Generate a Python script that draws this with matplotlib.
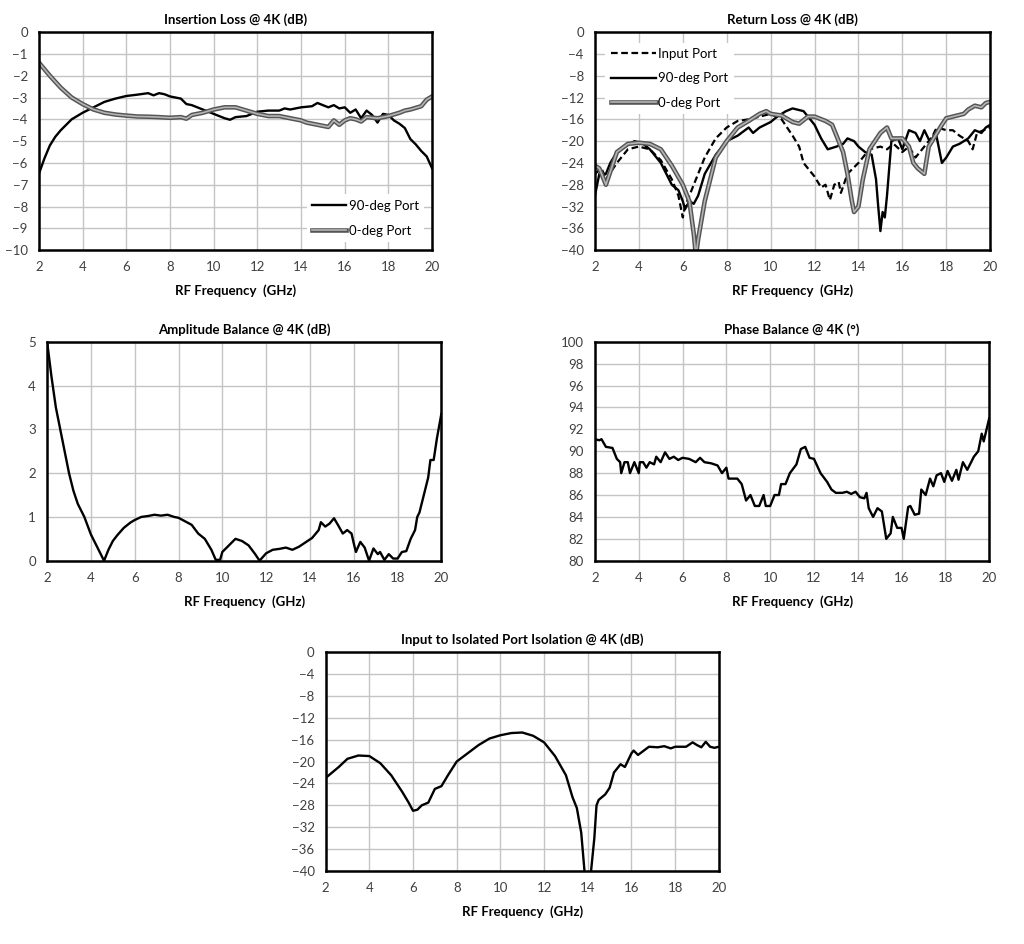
import matplotlib
matplotlib.use("Agg")
from matplotlib import pyplot as plt
import matplotlib.patheffects as pe

plt.rcParams['font.family'] = ['Lato', 'DejaVu Sans']

# ---- Insertion loss ----
il90_f = [2.0, 2.25, 2.5, 2.75, 3.0, 3.5, 4.0, 4.5, 5.0, 5.5, 6.0, 6.5, 7.0, 7.25, 7.5, 7.75, 8.0, 8.5,
          8.75, 9.0, 9.5, 10.0, 10.5, 10.75, 11.0, 11.5, 12.0, 12.5, 13.0, 13.25, 13.5, 14.0, 14.5, 14.75,
          15.0, 15.25, 15.5, 15.75, 16.0, 16.25, 16.5, 16.75, 17.0, 17.25, 17.5, 17.75, 18.0, 18.25, 18.5,
          18.75, 19.0, 19.25, 19.5, 19.75, 20.0]
il90_db = [-6.5, -5.8, -5.2, -4.8, -4.5, -4.0, -3.7, -3.45, -3.2, -3.05, -2.93, -2.87, -2.8, -2.9, -2.8,
           -2.85, -2.95, -3.05, -3.3, -3.35, -3.55, -3.75, -3.95, -4.02, -3.9, -3.85, -3.65, -3.6, -3.6,
           -3.5, -3.55, -3.45, -3.4, -3.25, -3.35, -3.45, -3.35, -3.5, -3.45, -3.7, -3.55, -3.95, -3.6,
           -3.8, -4.15, -3.75, -3.8, -4.05, -4.2, -4.4, -4.9, -5.15, -5.45, -5.7, -6.25]
il0_f = [2.0, 2.5, 3.0, 3.5, 4.0, 4.5, 5.0, 5.5, 6.0, 6.5, 7.0, 7.5, 8.0, 8.5, 8.75, 9.0, 9.5, 10.0, 10.5,
         11.0, 11.5, 12.0, 12.5, 13.0, 13.5, 14.0, 14.25, 14.5, 15.0, 15.25, 15.5, 15.75, 16.0, 16.25,
         16.5, 16.75, 17.0, 17.5, 18.0, 18.5, 18.75, 19.0, 19.5, 19.75, 20.0]
il0_db = [-1.4, -2.0, -2.55, -3.0, -3.3, -3.55, -3.7, -3.78, -3.83, -3.87, -3.88, -3.9, -3.93, -3.9,
          -3.97, -3.8, -3.7, -3.55, -3.45, -3.45, -3.6, -3.75, -3.85, -3.85, -3.95, -4.05, -4.15, -4.2,
          -4.3, -4.35, -4.05, -4.25, -4.05, -3.95, -4.0, -4.1, -3.9, -3.95, -3.85, -3.7, -3.6, -3.55,
          -3.4, -3.1, -2.95]

# ---- Return loss ----
rl_in_f = [2.0, 2.3, 2.5, 3.0, 3.5, 4.0, 4.5, 5.0, 5.5, 5.8, 6.0, 6.1, 6.5, 7.0, 7.5, 8.0, 8.5, 9.0, 9.5,
           10.0, 10.5, 11.0, 11.3, 11.5, 12.0, 12.3, 12.5, 12.7, 12.9, 13.1, 13.2, 13.5, 14.0, 14.5, 15.0,
           15.3, 15.6, 16.0, 16.3, 16.6, 17.0, 17.3, 17.6, 18.0, 18.3, 18.6, 19.0, 19.2, 19.4, 19.7, 20.0]
rl_in_db = [-26, -25, -27, -24, -21.5, -21, -21.5, -23.5, -27, -30, -34, -32, -28, -23, -19.5, -17.5,
            -16.3, -16, -15.5, -15, -16, -19, -21, -24, -26.5, -28.5, -28, -30.8, -28, -27.5, -29.5, -26,
            -24, -21.5, -21, -21.5, -20.5, -22, -21, -23, -21, -19.5, -17.5, -18, -18, -19, -20, -21.5,
            -18.5, -18, -17.5]
rl90_f = [2.0, 2.2, 2.5, 2.7, 3.0, 3.5, 3.8, 4.2, 4.5, 5.0, 5.5, 5.8, 6.0, 6.1, 6.3, 6.5, 6.7, 7.0, 7.5,
          8.0, 8.5, 9.0, 9.2, 9.5, 10.0, 10.3, 10.7, 11.0, 11.5, 12.0, 12.3, 12.6, 13.0, 13.3, 13.5, 13.8,
          14.0, 14.3, 14.6, 14.8, 14.9, 15.0, 15.1, 15.2, 15.3, 15.5, 15.8, 16.0, 16.3, 16.6, 16.8, 17.0,
          17.3, 17.5, 17.8, 18.0, 18.3, 18.6, 19.0, 19.3, 19.6, 19.8, 20.0]
rl90_db = [-30, -26, -26, -24, -22, -20.7, -20, -20.5, -21.5, -24, -28, -29, -31, -32.5, -31, -31.5, -30,
           -26, -22.5, -20, -19, -17.5, -18.5, -17.5, -16.5, -15.5, -14.5, -14, -14.5, -17, -19.5, -21.5,
           -21, -20.5, -19.5, -20, -21, -22, -22.5, -27, -32, -36.5, -33, -34, -30, -20, -19.5, -21.5, -18,
           -18.5, -20, -18, -20.5, -18, -24, -23, -21, -20.5, -19.5, -18, -18.5, -17.5, -17]
rl0_f = [2.0, 2.2, 2.5, 3.0, 3.5, 4.0, 4.5, 5.0, 5.5, 6.0, 6.3, 6.5, 6.6, 6.7, 7.0, 7.5, 8.0, 8.5, 9.0,
         9.5, 9.8, 10.0, 10.5, 11.0, 11.3, 11.7, 12.0, 12.5, 12.8, 13.0, 13.3, 13.5, 13.7, 13.8, 14.0,
         14.2, 14.5, 15.0, 15.3, 15.5, 16.0, 16.3, 16.5, 16.7, 17.0, 17.2, 17.5, 17.8, 18.0, 18.5, 18.8,
         19.0, 19.3, 19.6, 19.8, 20.0]
rl0_db = [-24.5, -25, -28, -22, -20.5, -20.3, -20.5, -21.5, -24.5, -28, -31, -37, -41, -38, -31, -23,
          -20, -17.5, -16.3, -15, -14.5, -15, -15.3, -16.5, -16.8, -15.5, -15.5, -16.3, -17, -19, -22, -26,
          -31, -33, -32, -27, -21.5, -18.5, -17.5, -19.5, -19.5, -21, -24, -25, -26, -21, -19, -17, -15.8,
          -15.3, -15, -14.2, -13.5, -13.8, -13, -12.8]

# ---- Amplitude balance ----
ab_f = [2.0, 2.2, 2.4, 2.6, 2.8, 3.0, 3.2, 3.4, 3.7, 4.0, 4.3, 4.6, 4.8, 5.0, 5.2, 5.5, 5.8, 6.0, 6.3,
        6.6, 6.9, 7.2, 7.5, 7.8, 8.0, 8.3, 8.6, 8.9, 9.2, 9.5, 9.7, 9.9, 10.0, 10.3, 10.6, 10.9, 11.2,
        11.5, 11.7, 12.0, 12.3, 12.6, 12.9, 13.2, 13.5, 13.8, 14.1, 14.4, 14.5, 14.7, 14.9, 15.1, 15.3,
        15.5, 15.7, 15.9, 16.0, 16.1, 16.3, 16.5, 16.7, 16.9, 17.1, 17.2, 17.4, 17.6, 17.8, 18.0, 18.2,
        18.4, 18.6, 18.8, 18.9, 19.0, 19.2, 19.4, 19.5, 19.65, 19.8, 20.0]
ab_db = [5.0, 4.2, 3.5, 3.0, 2.5, 2.0, 1.6, 1.3, 1.0, 0.6, 0.3, 0.0, 0.25, 0.45, 0.58, 0.75, 0.87, 0.93,
         1.0, 1.02, 1.05, 1.03, 1.05, 1.0, 0.98, 0.9, 0.82, 0.62, 0.5, 0.25, 0.02, 0.02, 0.2, 0.35, 0.5,
         0.45, 0.35, 0.15, 0.0, 0.17, 0.25, 0.27, 0.3, 0.25, 0.32, 0.42, 0.52, 0.7, 0.88, 0.78, 0.85,
         0.97, 0.8, 0.62, 0.7, 0.62, 0.4, 0.2, 0.43, 0.3, 0.0, 0.28, 0.15, 0.2, 0.02, 0.15, 0.05, 0.05,
         0.2, 0.22, 0.5, 0.7, 1.0, 1.1, 1.5, 1.9, 2.3, 2.3, 2.8, 3.35]

# ---- Phase balance ----
pb_f = [2.0, 2.2, 2.3, 2.5, 2.8, 3.0, 3.15, 3.2, 3.35, 3.5, 3.6, 3.8, 3.9, 4.0, 4.05, 4.2, 4.35, 4.5,
        4.7, 4.8, 5.0, 5.2, 5.4, 5.6, 5.8, 6.0, 6.3, 6.6, 6.8, 7.0, 7.3, 7.6, 7.8, 8.0, 8.1, 8.3, 8.5,
        8.7, 8.9, 9.1, 9.3, 9.5, 9.7, 9.8, 10.0, 10.2, 10.4, 10.5, 10.7, 10.9, 11.2, 11.4, 11.6, 11.8,
        12.0, 12.3, 12.6, 12.8, 13.0, 13.3, 13.5, 13.7, 13.9, 14.1, 14.3, 14.4, 14.5, 14.7, 14.9, 15.1,
        15.3, 15.5, 15.6, 15.8, 16.0, 16.1, 16.3, 16.4, 16.6, 16.8, 16.9, 17.1, 17.3, 17.45, 17.6, 17.8,
        17.95, 18.1, 18.3, 18.5, 18.6, 18.8, 19.0, 19.3, 19.5, 19.66, 19.75, 20.0]
pb_deg = [91.1, 91.0, 91.1, 90.4, 90.3, 89.3, 89.0, 88.0, 89.0, 89.0, 88.0, 89.0, 88.5, 88.0, 89.0, 89.0,
          88.5, 89.0, 88.8, 89.5, 89.0, 89.9, 89.3, 89.5, 89.2, 89.4, 89.3, 89.0, 89.4, 89.0, 88.9, 88.7,
          88.0, 88.5, 87.5, 87.5, 87.5, 87.0, 85.5, 86.0, 85.0, 85.0, 86.0, 85.0, 85.0, 86.0, 86.0, 87.0,
          87.0, 88.0, 88.8, 90.2, 90.4, 89.4, 89.3, 88.0, 87.2, 86.5, 86.2, 86.2, 86.3, 86.1, 86.3, 85.8,
          85.7, 86.2, 84.8, 84.0, 84.8, 84.5, 82.0, 82.5, 84.0, 83.0, 83.0, 82.0, 84.9, 85.0, 84.2, 84.3,
          86.5, 86.0, 87.5, 86.8, 87.8, 88.0, 87.2, 88.2, 87.3, 88.3, 87.4, 89.0, 88.3, 89.5, 90.0, 91.6,
          90.9, 93.0]

# ---- Isolation ----
iso_f = [2.0, 2.3, 2.6, 3.0, 3.5, 4.0, 4.5, 5.0, 5.5, 5.8, 6.0, 6.2, 6.4, 6.7, 7.0, 7.3, 7.6, 8.0, 8.5,
         9.0, 9.5, 10.0, 10.5, 11.0, 11.5, 12.0, 12.5, 13.0, 13.3, 13.5, 13.7, 13.85, 14.0, 14.15, 14.3,
         14.4, 14.5, 14.8, 15.0, 15.2, 15.5, 15.7, 16.0, 16.1, 16.3, 16.5, 16.8, 17.2, 17.5, 17.8, 18.0,
         18.5, 18.8, 19.0, 19.2, 19.4, 19.6, 19.8, 20.0]
iso_db = [-23, -22, -21, -19.5, -18.9, -19.0, -20.3, -22.5, -25.5, -27.5, -29.0, -28.8, -28.0, -27.5,
          -25.0, -24.5, -22.5, -20.0, -18.5, -17.0, -15.8, -15.2, -14.8, -14.7, -15.3, -16.5, -19.0,
          -22.5, -26.5, -28.5, -33.0, -40.0, -45.0, -40.0, -34.0, -28.0, -27.0, -26.0, -24.8, -22.0,
          -20.5, -21.0, -18.5, -18.0, -18.8, -18.2, -17.3, -17.4, -17.2, -17.6, -17.3, -17.3, -16.5,
          -17.0, -17.4, -16.4, -17.3, -17.5, -17.3]

freq_ticks = [2, 4, 6, 8, 10, 12, 14, 16, 18, 20]

# double-line look for the 0-deg traces
double = dict(color='#b4b4b4', lw=1.2,
              path_effects=[pe.Stroke(linewidth=3.3, foreground='#555555'), pe.Normal()])


def style_axes(ax, title, ylim, yticks):
    ax.set_xlim(2, 20)
    ax.set_ylim(*ylim)
    ax.set_xticks(freq_ticks)
    ax.set_yticks(yticks)
    ax.grid(True, color='#c4c4c4', lw=1.0)
    ax.set_axisbelow(True)
    ax.tick_params(length=0, labelsize=9.5, labelcolor='#404040', pad=8)
    for s in ax.spines.values():
        s.set_linewidth(1.8)
        s.set_color('black')
    ax.set_title(title, fontsize=9.5, fontweight='bold', pad=6)
    ax.set_xlabel("RF Frequency  (GHz)", fontsize=9.5, fontweight='bold', labelpad=8)


fig = plt.figure(figsize=(10.24, 9.44), dpi=100)

ax1 = fig.add_axes([0.038, 0.735, 0.384, 0.231])
ax1.plot(il90_f, il90_db, color='black', lw=1.7, label="90-deg Port")
ax1.plot(il0_f, il0_db, label="0-deg Port", **double)
style_axes(ax1, "Insertion Loss @ 4K (dB)", (-10, 0), range(-10, 1, 1))
leg = ax1.legend(loc='lower right', frameon=True, fontsize=9.5, handlelength=2.6,
                 labelspacing=1.0, borderaxespad=0.6, handletextpad=0.2)
leg.get_frame().set_edgecolor('none')
leg.get_frame().set_alpha(1)

ax2 = fig.add_axes([0.581, 0.735, 0.386, 0.231])
ax2.plot(rl_in_f, rl_in_db, color='black', lw=1.6, ls=(0, (3, 1.6)), label="Input Port")
ax2.plot(rl90_f, rl90_db, color='black', lw=1.7, label="90-deg Port")
ax2.plot(rl0_f, rl0_db, label="0-deg Port", **double)
style_axes(ax2, "Return Loss @ 4K (dB)", (-40, 0), range(-40, 1, 4))
leg = ax2.legend(loc='upper left', frameon=True, fontsize=9.5, handlelength=3.4,
                 labelspacing=0.95, borderaxespad=0.8, handletextpad=0.2)
leg.get_frame().set_edgecolor('none')
leg.get_frame().set_alpha(1)

ax3 = fig.add_axes([0.046, 0.406, 0.385, 0.232])
ax3.plot(ab_f, ab_db, color='black', lw=1.7)
style_axes(ax3, "Amplitude Balance @ 4K (dB)", (0, 5), range(0, 6, 1))

ax4 = fig.add_axes([0.581, 0.406, 0.385, 0.232])
ax4.plot(pb_f, pb_deg, color='black', lw=1.7)
style_axes(ax4, "Phase Balance @ 4K (\N{DEGREE SIGN})", (80, 100), range(80, 101, 2))

ax5 = fig.add_axes([0.318, 0.0773, 0.384, 0.232])
ax5.plot(iso_f, iso_db, color='black', lw=1.7)
style_axes(ax5, "Input to Isolated Port Isolation @ 4K (dB)", (-40, 0), range(-40, 1, 4))

fig.savefig("out.png", dpi=100)
